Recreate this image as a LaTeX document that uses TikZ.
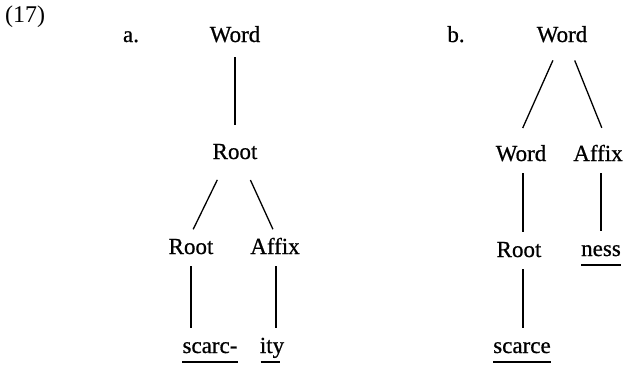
\documentclass[tikz,border=0pt]{standalone}
\usepackage{fontspec}
\setmainfont{Liberation Serif}
\newfontfamily\treefont[FakeBold=0.7]{Liberation Serif}
\tikzset{
	lbl/.style={anchor=base, inner xsep=0pt, inner ysep=4pt,
		text height=16pt, text depth=5pt, font=\treefont\fontsize{23}{27}\selectfont},
	branch/.style={line width=1.3pt, shorten <=3pt, shorten >=5pt},
	morph/.style={line width=2.4pt},
}

\begin{document}
\begin{tikzpicture}[x=1pt, y=-1pt]
	\useasboundingbox (0,0) rectangle (623,364);
	\node[anchor=base west, inner sep=0pt, font=\fontsize{24}{28}\selectfont] (num) at (5,22) {(17)};
	\node[lbl] (tagA) at (131,42) {a.};
	\node[lbl] (tagB) at (456,42) {b.};
	% tree a: scarcity
	\node[lbl] (wordA) at (235,42) {Word};
	\node[lbl] (rootA) at (235,159) {Root};
	\node[lbl] (rootAA) at (191,254) {Root};
	\node[lbl] (affixA) at (275,254) {Affix};
	\node[lbl] (scarc) at (210,353) {scarc-};
	\node[lbl] (ity) at (272,353) {ity};
	\draw[branch, shorten <=6pt, shorten >=14pt] (wordA.south) -- (rootA.north);
	\draw[branch, shorten <=13pt] ([xshift=-12pt]rootA.south) -- (rootAA.north);
	\draw[branch, shorten <=13pt] ([xshift=10pt]rootA.south) -- (affixA.north);
	\draw[branch] (rootAA.south) -- ([xshift=-19pt]scarc.north);
	\draw[branch] ([xshift=1pt]affixA.south) -- ([xshift=4pt]ity.north);
	\draw[morph] (scarc.south west) -- (scarc.south east);
	\draw[morph] ([xshift=1pt]ity.south west) -- ([xshift=-4pt]ity.south east);
	% tree b: scarceness
	\node[lbl] (wordB) at (562,42) {Word};
	\node[lbl] (wordBB) at (521,161) {Word};
	\node[lbl] (affixB) at (598,161) {Affix};
	\node[lbl] (rootB) at (519,257) {Root};
	\node[lbl] (ness) at (601,256) {ness};
	\node[lbl] (scarce) at (522,353) {scarce};
	\draw[branch, shorten <=10pt, shorten >=14pt] ([xshift=-5pt]wordB.south) -- ([xshift=-4pt]wordBB.north);
	\draw[branch, shorten <=10pt, shorten >=14pt] ([xshift=9pt]wordB.south) -- ([xshift=9pt]affixB.north);
	\draw[branch] ([xshift=2pt]wordBB.south) -- ([xshift=4pt]rootB.north);
	\draw[branch] ([xshift=3pt]affixB.south) -- (ness.north);
	\draw[branch] ([xshift=4pt]rootB.south) -- ([xshift=1pt]scarce.north);
	\draw[morph] (ness.south west) -- (ness.south east);
	\draw[morph] (scarce.south west) -- (scarce.south east);
\end{tikzpicture}
\end{document}
